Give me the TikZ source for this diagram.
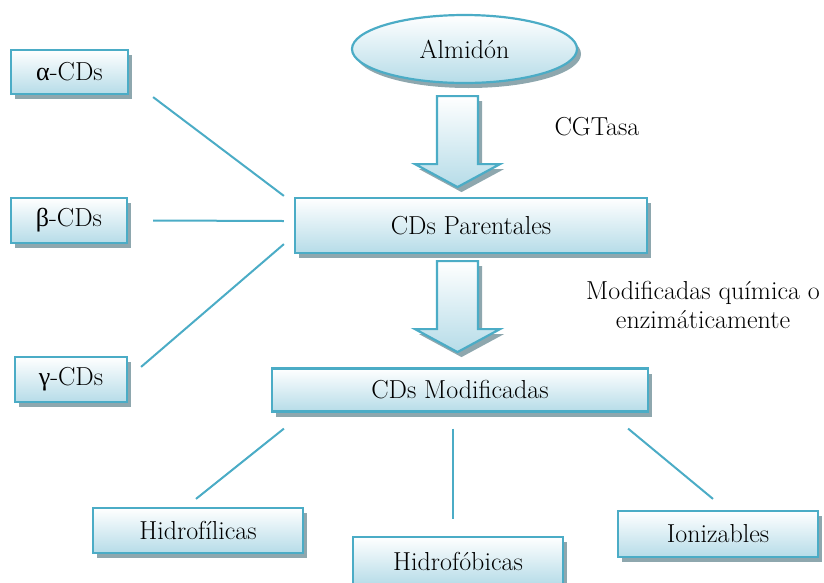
\documentclass[tikz,border=0pt]{standalone}
\usepackage{fontspec}
\usetikzlibrary{shapes.geometric,shadows}
\newfontfamily\grk{Liberation Serif}
\definecolor{lineblue}{HTML}{4BACC6}
\definecolor{fillblue}{HTML}{B6DCE8}
\definecolor{shadowgray}{HTML}{8EA7AE}

\begin{document}
\begin{tikzpicture}[x=1pt,y=-1pt,
    every node/.style={font=\fontsize{26}{29}\selectfont},
    cbox/.style={draw=lineblue,line width=2.2pt,rectangle,inner sep=0pt,
        top color=white,bottom color=fillblue,
        drop shadow={shadow xshift=4pt,shadow yshift=-5pt,fill=shadowgray,opacity=1}},
    coval/.style={cbox,ellipse},
    lnk/.style={draw=lineblue,line width=2pt},
    barrow/.style={draw=lineblue,line width=2.2pt,line join=miter,
        top color=white,bottom color=fillblue,
        drop shadow={shadow xshift=4pt,shadow yshift=-5pt,fill=shadowgray,opacity=1}}]
    \useasboundingbox (0,0) rectangle (824,582);

    \node[coval,minimum width=225pt,minimum height=68pt] (alm) at (464.5,49) {Almidón};
    \node[cbox,minimum width=352pt,minimum height=55pt] (par) at (471,225.5) {CDs Parentales};
    \node[cbox,minimum width=376pt,minimum height=43pt] (mod) at (460,390) {CDs Modificadas};

    \node[cbox,minimum width=117pt,minimum height=44pt] (alpha) at (69.5,72) {{\grk α}-CDs};
    \node[cbox,minimum width=116pt,minimum height=45pt] (beta) at (69,220.5) {{\grk β}-CDs};
    \node[cbox,minimum width=112pt,minimum height=45pt] (gamma) at (71,379.5) {{\grk γ}-CDs};

    \node[cbox,minimum width=210pt,minimum height=45pt] (hfil) at (198,530.5) {Hidrofílicas};
    \node[cbox,minimum width=210pt,minimum height=48pt] (hfob) at (458,561) {Hidrofóbicas};
    \node[cbox,minimum width=200pt,minimum height=46pt] (ion) at (718,534) {Ionizables};

    \node (cgt) at (597,127) {CGTasa};
    \node[align=center] (quim) at (703,305) {Modificadas química o\\enzimáticamente};

    % block arrows
    \coordinate (arr1) at ([xshift=-7pt,yshift=-12pt]alm.south);
    \coordinate (arr2) at ([xshift=-13.5pt,yshift=-7pt]par.south);
    \foreach \a in {arr1,arr2}
        \draw[barrow,shift={(\a)}] (-20.5,0) -- (20.5,0) -- (20.5,68) -- (42.5,68)
            -- (0,91) -- (-42.5,68) -- (-20.5,68) -- cycle;

    \draw[lnk] ([xshift=24pt,yshift=-2pt]alpha.south east) -- ([xshift=-10pt,yshift=1pt]par.north west);
    \draw[lnk] ([xshift=25pt]beta.east) -- ([xshift=-10pt,yshift=4.5pt]par.west);
    \draw[lnk] ([xshift=13pt,yshift=-11pt]gamma.north east) -- ([xshift=-10pt,yshift=10pt]par.south west);

    \draw[lnk] ([xshift=13pt,yshift=-16pt]mod.south west) -- ([xshift=-2pt,yshift=8pt]hfil.north);
    \draw[lnk] ([xshift=-7pt,yshift=-16pt]mod.south) -- ([xshift=-5pt,yshift=17pt]hfob.north);
    \draw[lnk] ([xshift=-21pt,yshift=-16pt]mod.south east) -- ([xshift=-5pt,yshift=11pt]ion.north);
\end{tikzpicture}
\end{document}
